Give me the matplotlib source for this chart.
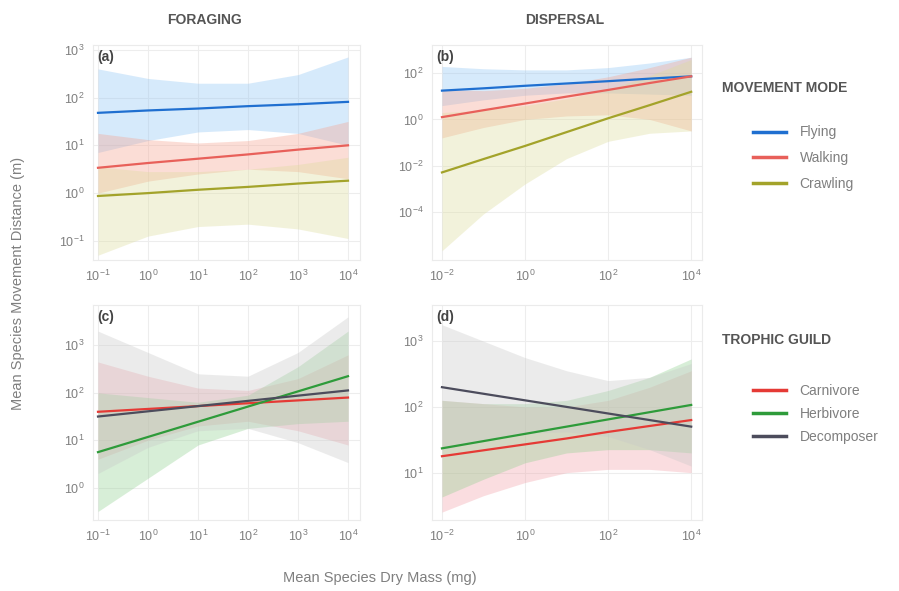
import matplotlib
matplotlib.use("Agg")
import matplotlib.pyplot as plt
from matplotlib.lines import Line2D
from matplotlib.ticker import FuncFormatter, NullLocator
import numpy as np

plt.rcParams['font.family'] = ['Liberation Sans', 'DejaVu Sans']

# ---- datos (log10 de los valores) ----
x_forrajeo = [-1, 0, 1, 2, 3, 4]
x_dispersion = [-2, -1, 0, 1, 2, 3, 4]

modos = ["Flying", "Walking", "Crawling"]
gremios = ["Carnivore", "Herbivore", "Decomposer"]

# (a) forrajeo por modo de movimiento
a_linea = {"Flying": [1.68, 1.73, 1.77, 1.82, 1.86, 1.91],
           "Walking": [0.53, 0.63, 0.72, 0.81, 0.91, 1.00],
           "Crawling": [-0.06, 0.00, 0.07, 0.13, 0.20, 0.26]}
a_sup = {"Flying": [2.60, 2.40, 2.30, 2.30, 2.48, 2.85],
         "Walking": [1.25, 1.12, 1.05, 1.10, 1.25, 1.50],
         "Crawling": [0.55, 0.45, 0.45, 0.50, 0.60, 0.75]}
a_inf = {"Flying": [0.85, 1.10, 1.28, 1.33, 1.25, 1.00],
         "Walking": [0.00, 0.25, 0.40, 0.50, 0.45, 0.30],
         "Crawling": [-1.30, -0.90, -0.70, -0.65, -0.75, -0.95]}

# (b) dispersion por modo de movimiento
b_linea = {"Flying": [1.25, 1.35, 1.46, 1.56, 1.66, 1.77, 1.87],
           "Walking": [0.10, 0.40, 0.69, 0.99, 1.28, 1.58, 1.87],
           "Crawling": [-2.30, -1.72, -1.15, -0.55, 0.05, 0.62, 1.20]}
b_sup = {"Flying": [2.30, 2.20, 2.15, 2.15, 2.25, 2.45, 2.70],
         "Walking": [1.30, 1.25, 1.35, 1.55, 1.85, 2.25, 2.70],
         "Crawling": [0.30, 0.40, 0.60, 0.90, 1.30, 1.90, 2.60]}
b_inf = {"Flying": [0.60, 0.85, 1.05, 1.15, 1.15, 1.10, 1.05],
         "Walking": [-0.80, -0.35, 0.00, 0.15, 0.20, 0.00, -0.50],
         "Crawling": [-5.70, -4.10, -2.80, -1.70, -0.95, -0.60, -0.50]}

# (c) forrajeo por gremio trofico
c_linea = {"Carnivore": [1.60, 1.66, 1.72, 1.78, 1.84, 1.90],
           "Herbivore": [0.75, 1.07, 1.39, 1.71, 2.03, 2.35],
           "Decomposer": [1.50, 1.61, 1.72, 1.83, 1.94, 2.05]}
c_sup = {"Carnivore": [2.65, 2.35, 2.10, 2.05, 2.30, 2.80],
         "Herbivore": [2.00, 1.90, 1.80, 1.95, 2.55, 3.30],
         "Decomposer": [3.30, 2.85, 2.40, 2.35, 2.85, 3.60]}
c_inf = {"Carnivore": [0.60, 1.00, 1.30, 1.40, 1.20, 0.90],
         "Herbivore": [-0.50, 0.20, 0.90, 1.25, 1.35, 1.40],
         "Decomposer": [0.30, 0.85, 1.20, 1.25, 0.95, 0.53]}

# (d) dispersion por gremio trofico
d_linea = {"Carnivore": [1.25, 1.34, 1.43, 1.52, 1.62, 1.71, 1.80],
           "Herbivore": [1.37, 1.48, 1.59, 1.70, 1.81, 1.92, 2.03],
           "Decomposer": [2.30, 2.20, 2.10, 2.00, 1.90, 1.80, 1.70]}
d_sup = {"Carnivore": [2.10, 2.05, 2.00, 2.00, 2.10, 2.30, 2.55],
         "Herbivore": [2.10, 2.05, 2.05, 2.10, 2.25, 2.45, 2.73],
         "Decomposer": [3.25, 3.00, 2.75, 2.55, 2.40, 2.45, 2.66]}
d_inf = {"Carnivore": [0.40, 0.65, 0.85, 1.00, 1.05, 1.05, 1.00],
         "Herbivore": [0.63, 0.90, 1.15, 1.30, 1.35, 1.35, 1.30],
         "Decomposer": [1.35, 1.50, 1.60, 1.62, 1.55, 1.35, 1.10]}

colores = {"Flying": "#1f6fd0", "Walking": "#e8605a", "Crawling": "#a3a32a",
           "Carnivore": "#e53a35", "Herbivore": "#2e9b3a", "Decomposer": "#4c4c5c"}
relleno = {"Flying": "#8cc4f5", "Walking": "#f6a08c", "Crawling": "#dcdc9a",
           "Carnivore": "#f2a0a8", "Herbivore": "#8fd08f", "Decomposer": "#c8c8c8"}

gris_txt = "#7f7f7f"

fig = plt.figure(figsize=(8.99, 5.91), dpi=100)

paneles = [
    ("(a)", x_forrajeo, a_linea, a_sup, a_inf, modos, [93, 45, 360, 260], (-1.1, 4.24), (-1.4, 3.1), [-1, 0, 1, 2, 3], 1),
    ("(b)", x_dispersion, b_linea, b_sup, b_inf, modos, [432, 45, 702, 260], (-2.24, 4.26), (-6.1, 3.23), [-4, -2, 0, 2], 2),
    ("(c)", x_forrajeo, c_linea, c_sup, c_inf, gremios, [93, 305, 360, 520], (-1.1, 4.24), (-0.68, 3.85), [0, 1, 2, 3], 1),
    ("(d)", x_dispersion, d_linea, d_sup, d_inf, gremios, [432, 305, 702, 520], (-2.24, 4.26), (0.28, 3.55), [1, 2, 3], 2),
]

W, H = 899, 591

def fmt_pot(v, pos):
    e = int(round(np.log10(v)))
    return r"$\mathregular{10^{%d}}$" % e

for etiqueta, xs, linea, sup, inf, grupos, caja, xlim, ylim, yticks, paso in paneles:
    x0, y0, x1, y1 = caja
    ax = fig.add_axes([x0 / W, 1 - y1 / H, (x1 - x0) / W, (y1 - y0) / H])
    xv = 10.0 ** np.array(xs)
    for g in grupos:
        ax.fill_between(xv, 10.0 ** np.array(inf[g]), 10.0 ** np.array(sup[g]),
                        color=relleno[g], alpha=0.35, linewidth=0)
    for g in grupos:
        ax.plot(xv, 10.0 ** np.array(linea[g]), color=colores[g], lw=1.6)
    ax.set_xscale("log")
    ax.set_yscale("log")
    ax.set_xlim(10.0 ** xlim[0], 10.0 ** xlim[1])
    ax.set_ylim(10.0 ** ylim[0], 10.0 ** ylim[1])
    ax.set_xticks(10.0 ** np.arange(xs[0], xs[-1] + 1, paso))
    ax.set_yticks(10.0 ** np.array(yticks, dtype=float))
    ax.xaxis.set_minor_locator(NullLocator())
    ax.yaxis.set_minor_locator(NullLocator())
    ax.xaxis.set_major_formatter(FuncFormatter(fmt_pot))
    ax.yaxis.set_major_formatter(FuncFormatter(fmt_pot))
    ax.tick_params(length=0, labelsize=9, colors=gris_txt, pad=6)
    ax.grid(True, color="#ededed", lw=0.8)
    ax.set_axisbelow(True)
    for s in ax.spines.values():
        s.set_color("#ebebeb")
        s.set_linewidth(0.8)
    ax.text(0.015, 0.975, etiqueta, transform=ax.transAxes, ha="left", va="top",
            fontsize=10, color="#444444", fontweight="bold")

# titulos de columnas y ejes
fig.text(205 / W, 1 - 20 / H, "FORAGING", ha="center", va="center",
         fontsize=10, fontweight="bold", color="#555555")
fig.text(565 / W, 1 - 20 / H, "DISPERSAL", ha="center", va="center",
         fontsize=10, fontweight="bold", color="#555555")
fig.text(18 / W, 1 - 283 / H, "Mean Species Movement Distance (m)", rotation=90,
         ha="center", va="center", fontsize=10.5, color=gris_txt)
fig.text(380 / W, 1 - 578 / H, "Mean Species Dry Mass (mg)", ha="center",
         va="center", fontsize=10.5, color=gris_txt)

# leyendas
fig.text(722 / W, 1 - 88 / H, "MOVEMENT MODE", ha="left", va="center",
         fontsize=10, fontweight="bold", color="#555555")
h1 = [Line2D([], [], color=colores[g], lw=2.5) for g in modos]
fig.legend(h1, modos, loc="upper left", bbox_to_anchor=(740 / W, 1 - 113 / H),
           frameon=False, handlelength=2.4, labelspacing=0.85, fontsize=10,
           labelcolor=gris_txt, handletextpad=1.0)

fig.text(722 / W, 1 - 340 / H, "TROPHIC GUILD", ha="left", va="center",
         fontsize=10, fontweight="bold", color="#555555")
h2 = [Line2D([], [], color=colores[g], lw=2.5) for g in gremios]
fig.legend(h2, gremios, loc="upper left", bbox_to_anchor=(740 / W, 1 - 371 / H),
           frameon=False, handlelength=2.4, labelspacing=0.65, fontsize=10,
           labelcolor=gris_txt, handletextpad=1.0)

fig.savefig("out.png", dpi=100)
